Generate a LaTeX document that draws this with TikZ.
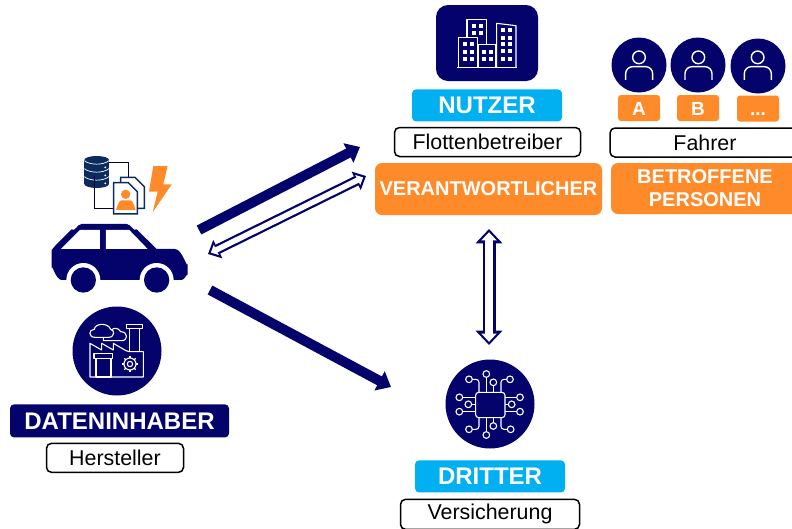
\documentclass[tikz,border=0pt]{standalone}
\usepackage{fontspec}
\setmainfont{Liberation Sans}
\usetikzlibrary{positioning,arrows.meta}
\definecolor{navy}{HTML}{03036B}
\definecolor{docblue}{HTML}{0B2A5E}
\definecolor{sky}{HTML}{00B0F0}
\definecolor{amber}{HTML}{FF8A2A}
\tikzset{
  banner/.style={fill=#1, rounded corners=4pt, inner sep=0pt, text=white, font=\bfseries\fontsize{24}{26}\selectfont},
  rolebox/.style={draw=black, line width=1.5pt, fill=white, rounded corners=5pt, inner sep=0pt, minimum height=29pt, font=\fontsize{21.4}{24}\selectfont},
  orangebox/.style={fill=amber, rounded corners=7pt, inner sep=0pt, text=white, align=center, font=\bfseries\fontsize{20}{23}\selectfont},
  tag/.style={fill=amber, rounded corners=3pt, inner sep=0pt, text=white, minimum width=42pt, minimum height=26pt, text height=14pt, text depth=0pt, font=\bfseries\fontsize{19}{22}\selectfont},
  disc/.style={circle, fill=navy, inner sep=0pt, minimum size=#1},
  solidarrow/.style={navy, line width=10pt, -{Triangle[length=13pt,width=21pt]}},
  hollowout/.style={navy, line width=#1, {Triangle[length=1.1*#1,width=2*#1]}-{Triangle[length=1.1*#1,width=2*#1]}},
  hollowin/.style={white, line width=#1, {Triangle[length=1.1*#1,width=2*#1]}-{Triangle[length=1.1*#1,width=2*#1]}, shorten <=3.2pt, shorten >=3.2pt},
  icon/.style={white, line width=1.1pt, line join=round},
}
\begin{document}
\begin{tikzpicture}[x=1pt, y=-1pt]
\useasboundingbox (0,0) rectangle (792,528);

\node[disc=89pt] (fabrik) at (117,351) {};
\node[banner=navy, minimum width=219pt, minimum height=33pt, below=8.5pt of fabrik, xshift=2.5pt] (dateninhaber) {DATENINHABER};
\node[rolebox, minimum width=137pt, below=5pt of dateninhaber, xshift=-4.5pt] (hersteller) {Hersteller};

\node[fill=navy, rounded corners=12pt, minimum width=102pt, minimum height=76pt, inner sep=0pt] (gebaeude) at (487,43) {};
\node[banner=sky, minimum width=150pt, minimum height=32pt, below=8pt of gebaeude] (nutzer) {NUTZER};
\node[rolebox, minimum width=186pt] (flotte) at (487.5,142) {Flottenbetreiber};
\node[orangebox, minimum width=227pt, minimum height=52pt] (verantw) at (488.5,189) {VERANTWORTLICHER};

\node[disc=55pt] (p1) at (639,65) {};
\node[disc=55pt] (p2) at (698,65) {};
\node[disc=55pt] (p3) at (758,66) {};
\node[tag] (a) at (639,108) {A};
\node[tag] (b) at (698,108) {B};
\node[tag] (c) at (758,108.5) {...};
\node[rolebox, minimum width=190pt] (fahrer) at (705,142.5) {Fahrer};
\node[orangebox, minimum width=188pt, minimum height=51pt] (betroffene) at (705,188.5) {BETROFFENE\\PERSONEN};

\node[disc=89pt] (chip) at (490,404) {};
\node[banner=sky, minimum width=150pt, minimum height=32pt, below=11.5pt of chip] (dritter) {DRITTER};
\node[rolebox, minimum width=179pt, minimum height=30pt, below=6pt of dritter] (versicherung) {Versicherung};

\coordinate (s1) at (199,230);
\coordinate (e1) at (360,147);
\coordinate (s2) at (210,290);
\coordinate (e2) at (391,387);
\coordinate (s3) at (208,254);
\coordinate (e3) at (366,176);
\coordinate (s4) at (489,229);
\coordinate (e4) at (489,345);

\draw[solidarrow] (s1) -- (e1);
\draw[solidarrow] (s2) -- (e2);
\draw[hollowout=10pt] (s3) -- (e3);
\draw[hollowin=5.5pt] (s3) -- (e3);
\draw[hollowout=13pt] (s4) -- (e4);
\draw[hollowin=7.5pt] (s4) -- (e4);

% auto
\begin{scope}[shift={(0,140)}, scale=0.3333]
\fill[navy] (155,330) -- (165,318) -- (215,268) to[out=-45,in=180] (245,252) -- (380,252) to[out=0,in=-140] (410,268) -- (470,327) -- (525,327) to[out=0,in=-90] (563,370) -- (563,405) to[out=90,in=0] (545,420) -- (185,420) to[out=180,in=90] (155,385) -- cycle;
\fill[white] (183,327) -- (240,270) -- (300,270) -- (300,327) -- cycle;
\fill[white] (318,327) -- (318,270) -- (388,270) -- (443,327) -- cycle;
\foreach \wx in {250,470} {
  \fill[white] (\wx,420) circle (51);
  \fill[navy] (\wx,420) circle (38);
}
\draw[navy!60!black, line width=1.5pt] (327,68) -- (385,68) -- (385,125);
\draw[navy!60!black, line width=1.5pt] (283,108) -- (283,205) -- (340,205);
\fill[docblue] (253,60) rectangle (327,132);
\fill[docblue] (290,60) ellipse (37 and 12);
\fill[docblue] (290,132) ellipse (37 and 12);
\draw[white, line width=0.7pt] (253,62) .. controls (270,76) and (310,76) .. (327,62);
\draw[white, line width=0.7pt] (253,86) .. controls (270,100) and (310,100) .. (327,86);
\draw[white, line width=0.7pt] (253,110) .. controls (270,124) and (310,124) .. (327,110);
\foreach \dy in {82,106,130} {
  \fill[white] (316,\dy) circle (3);
}
\draw[navy!60!black, line width=1.5pt] (283,108) -- (283,140);
\draw[docblue, line width=1.5pt, fill=white] (362,112) -- (405,112) -- (433,140) -- (433,205) -- (362,205) -- cycle;
\draw[docblue, line width=1.5pt, fill=white] (341,128) -- (385,128) -- (412,155) -- (412,222) -- (341,222) -- cycle;
\fill[amber] (377,163) circle (14);
\fill[amber] (347,210) to[out=-90,in=180] (365,181) -- (390,181) to[out=0,in=-90] (408,210) -- cycle;
\fill[amber] (460,78) -- (503,78) -- (490,133) -- (515,133) -- (458,217) -- (473,155) -- (447,155) -- cycle;
\end{scope}

% fabrik
\begin{scope}[shift={(0,300)}, scale=0.3333]
\draw[icon] (270,130) -- (305,150) -- (305,130) -- (340,150) -- (340,130) -- (378,152) -- (388,155) -- (430,155) -- (430,231) -- (270,231) -- cycle;
\draw[icon] (388,155) -- (388,85) -- (418,85) -- (418,155);
\draw[icon] (380,73) rectangle (428,85);
\draw[icon, fill=navy] (288,175) rectangle (333,231);
\draw[icon, fill=navy] (282,160) rectangle (338,175);
\draw[icon, fill=navy] (390,192) circle (18);
\draw[icon] (390,192) circle (8);
\foreach \ang in {0,45,...,315} {
  \draw[icon, shift={(390,192)}] (\ang:18) -- (\ang:24);
}
\draw[icon, fill=navy] (310,122) -- (365,122) .. controls (385,122) and (385,95) .. (362,95) .. controls (355,82) and (340,82) .. (333,92) -- (310,105) -- cycle;
\draw[icon, fill=navy] (285,112) .. controls (265,112) and (265,88) .. (283,88) .. controls (285,68) and (325,68) .. (332,88) .. controls (345,90) and (345,112) .. (325,112) -- cycle;
\end{scope}

% gebaeude
\begin{scope}[shift={(370,0)}, scale=0.3333]
\draw[icon] (291,113) -- (291,58) -- (349,58) -- (349,133);
\draw[icon] (265,203) -- (265,113) -- (322,113) -- (322,203);
\draw[icon] (325,203) -- (325,133) -- (378,133) -- (378,203);
\draw[icon] (380,203) -- (380,70) -- (438,77) -- (438,203);
\draw[icon] (262,203) -- (441,203);
\foreach \wx/\wy in {279/127,299/127,279/150,299/150,279/170,299/170,306/72,326/72,306/92,326/92,337/150,357/150,337/170,357/170,393/85,413/85,393/107,413/107,393/127,413/127,393/147,413/147,393/170,413/170} {
  \fill[white] (\wx,\wy) rectangle ++(12,12);
}
\end{scope}

% personen
\foreach \px in {147,325,503} {
\begin{scope}[shift={(590,20)}, scale=0.3333]
\draw[icon, line width=1.4pt] (\px,112) circle (19);
\draw[icon, line width=1.4pt, rounded corners=7pt] (\px-40,180) -- (\px-40,140) -- (\px+41,140) -- (\px+41,180);
\end{scope}
}

% chip
\begin{scope}[shift={(400,350)}, scale=0.3333]
\draw[icon, rounded corners=3pt] (227,127) rectangle (315,203);
\foreach \ax/\ay/\bx/\by in {259/72/259/127,280/97/280/127,178/142/227/142,178/185/227/185,205/163/227/163,360/142/315/142,360/185/315/185,335/163/315/163,259/255/259/203,280/228/280/203} {
  \draw[icon] (\ax,\ay) -- (\bx,\by);
  \draw[icon, fill=navy] (\ax,\ay) circle (10);
}
\foreach \ax/\ay/\mx/\by in {207/88/237/127,330/88/303/127,207/238/237/203,332/238/303/203} {
  \draw[icon, rounded corners=3pt] (\ax,\ay) -- (\mx,\ay) -- (\mx,\by);
  \draw[icon, fill=navy] (\ax,\ay) circle (10);
}
\end{scope}
\end{tikzpicture}
\end{document}
